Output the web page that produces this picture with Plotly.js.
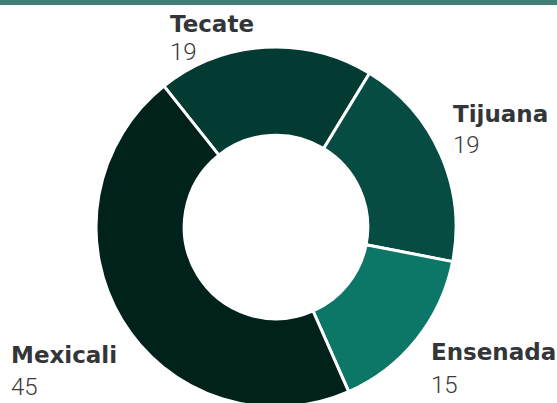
<!DOCTYPE html>
<html>
<head>
<meta charset="utf-8">
<script src="https://cdn.plot.ly/plotly-3.0.1.min.js"></script>
<style>
html,body{margin:0;padding:0;overflow:hidden;background:#fff;}
#chart{width:557px;height:410px;}
</style>
</head>
<body>
<div id="chart"></div>
<script>
const categories = ["Tecate", "Tijuana", "Ensenada", "Mexicali"];
const values = [19, 19, 15, 45];
const colors = ["#033b33", "#064c42", "#0d7767", "#01211b"];

// label anchor positions in pixels (left x, name middle y, value middle y)
const labelPos = {
  "Tecate":   [169, 24, 52],
  "Tijuana":  [452, 114, 145],
  "Ensenada": [430, 352, 385],
  "Mexicali": [10, 355, 387]
};

const W = 557, H = 410;
const mL = 96, mR = 101, mT = 47, mB = 3;
const pw = W - mL - mR, ph = H - mT - mB;
const px2x = p => (p - mL) / pw;
const py2y = p => (H - mB - p) / ph;

const annotations = [];
categories.forEach((c, i) => {
  const p = labelPos[c];
  annotations.push({
    xref: "paper", yref: "paper", x: px2x(p[0]), y: py2y(p[1]),
    xanchor: "left", yanchor: "middle", showarrow: false, borderpad: 0,
    text: "<b>" + c + "</b>",
    font: {family: "DejaVu Sans", size: 23, color: "#333638"}
  });
  annotations.push({
    xref: "paper", yref: "paper", x: px2x(p[0]), y: py2y(p[2]),
    xanchor: "left", yanchor: "middle", showarrow: false, borderpad: 0,
    text: String(values[i]),
    font: {family: "Roboto", size: 24, color: "#3a3a3a", weight: 300}
  });
});

const data = [{
  type: "pie",
  labels: categories,
  values: values,
  hole: 0.51,
  sort: false,
  direction: "clockwise",
  rotation: -38.5,
  textinfo: "none",
  hoverinfo: "label+value",
  marker: {colors: colors, line: {color: "#ffffff", width: 3}},
  domain: {x: [0, 1], y: [0, 1]}
}];

const layout = {
  width: W, height: H,
  margin: {l: mL, r: mR, t: mT, b: mB, pad: 0},
  showlegend: false,
  paper_bgcolor: "#ffffff",
  plot_bgcolor: "#ffffff",
  annotations: annotations,
  shapes: [{
    type: "rect", xref: "paper", yref: "paper",
    x0: px2x(0), x1: px2x(W), y0: py2y(5), y1: py2y(0),
    fillcolor: "#417e76", line: {width: 0}, layer: "above"
  }]
};

Plotly.newPlot("chart", data, layout, {displayModeBar: false, staticPlot: true});
</script>
</body>
</html>
